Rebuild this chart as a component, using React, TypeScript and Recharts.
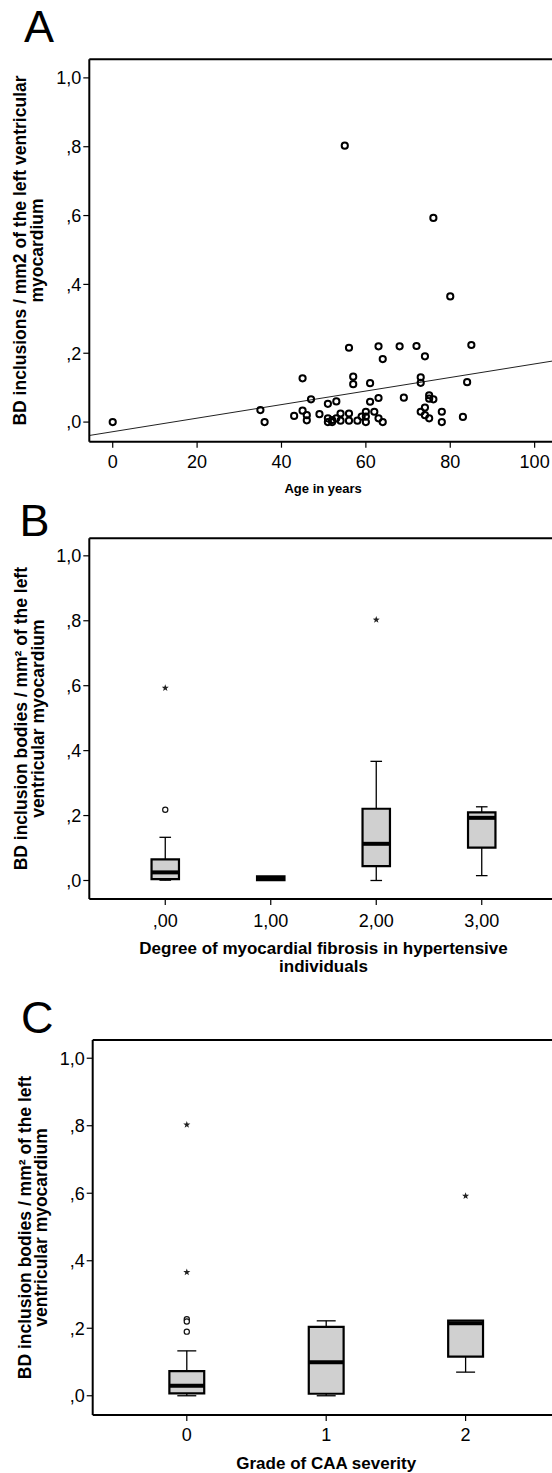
import React from 'react';
import { ScatterChart, Scatter, XAxis, YAxis, ReferenceLine, ReferenceArea, Label } from 'recharts';

const FONT = '"Liberation Sans", Arial, Helvetica, sans-serif';

// ---------- Shared value axis ----------
const densityTicks = [0, 0.2, 0.4, 0.6, 0.8, 1.0];
const densityTickLabels = [',0', ',2', ',4', ',6', ',8', '1,0'];
const Y_MIN = -0.057;
const Y_MAX = 1.054;

// ---------- Panel A: age vs BD inclusions ----------
const ageYears = [
  0, 35, 36, 43, 45, 45, 46, 46, 47, 49, 51, 51, 51, 52, 52, 53, 53, 54, 54, 55,
  56, 56, 56, 57, 57, 58, 59, 60, 60, 60, 61, 61, 62, 63, 63, 63, 64, 64, 68, 69,
  72, 73, 73, 73, 74, 74, 74, 75, 75, 75, 76, 76, 78, 78, 80, 83, 84, 85,
];
const bdInclusionsA = [
  0, 0.035, 0, 0.018, 0.127, 0.033, 0.02, 0.005, 0.066, 0.023, 0.053, 0.011, 0, 0.006, 0, 0.06, 0.011, 0.025, 0.004, 0.803,
  0.216, 0.025, 0.004, 0.132, 0.11, 0.004, 0.016, 0.03, 0.016, 0, 0.113, 0.059, 0.03, 0.22, 0.07, 0.011, 0.183, 0, 0.22, 0.071,
  0.221, 0.13, 0.114, 0.03, 0.191, 0.042, 0.02, 0.078, 0.068, 0.011, 0.593, 0.066, 0.03, 0, 0.365, 0.015, 0.116, 0.224,
];
const regressionIntercept = -0.028;
const regressionSlope = 0.00197;
const ageTicks = [0, 20, 40, 60, 80, 100];
const ageTickLabels = ['0', '20', '40', '60', '80', '100'];
const AGE_MIN = -5.55;
const AGE_MAX = 105.3;

// ---------- Panel B: fibrosis degree ----------
const fibrosisGroups = [0, 1, 2, 3];
const fibrosisLabels = [',00', '1,00', '2,00', '3,00'];
const fibrosisMin = [0.001, 0.001, 0.0, 0.015];
const fibrosisQ1 = [0.004, 0.001, 0.044, 0.1015];
const fibrosisMedian = [0.025, 0.006, 0.113, 0.193];
const fibrosisQ3 = [0.065, 0.013, 0.221, 0.21];
const fibrosisMax = [0.133, 0.013, 0.367, 0.227];
const fibrosisOutlierGroup = [0];
const fibrosisOutlierValue = [0.218];
const fibrosisExtremeGroup = [0, 2];
const fibrosisExtremeValue = [0.593, 0.803];
const FIB_MIN = -0.72;
const FIB_MAX = 3.72;

// ---------- Panel C: CAA grade ----------
const caaGroups = [0, 1, 2];
const caaLabels = ['0', '1', '2'];
const caaMin = [0.0, 0.0, 0.07];
const caaQ1 = [0.007, 0.006, 0.116];
const caaMedian = [0.03, 0.0995, 0.215];
const caaQ3 = [0.073, 0.204, 0.223];
const caaMax = [0.133, 0.222, 0.223];
const caaOutlierGroup = [0, 0, 0];
const caaOutlierValue = [0.227, 0.22, 0.19];
const caaExtremeGroup = [0, 0, 2];
const caaExtremeValue = [0.803, 0.366, 0.592];
const CAA_MIN = -0.675;
const CAA_MAX = 2.675;

// ---------- helpers ----------
const lookup = (ticks: number[], labels: string[], v: number) => {
  const i = ticks.findIndex((t) => Math.abs(t - v) < 1e-9);
  return i >= 0 ? labels[i] : '';
};

const axisLineStyle = { stroke: '#000', strokeWidth: 2 };

const makeYTick = (axisX: number) => (props: any) => {
  const v = props.payload ? props.payload.value : 0;
  return (
    <g>
      <line x1={axisX - 6} x2={axisX} y1={props.y} y2={props.y} stroke="#000" strokeWidth={1.2} />
      <text x={axisX - 8} y={props.y} dy="0.355em" textAnchor="end" fontFamily={FONT} fontSize={18} fill="#000">
        {lookup(densityTicks, densityTickLabels, v)}
      </text>
    </g>
  );
};

const makeXTick = (axisY: number, labelOffset: number, ticks: number[], labels: string[]) => (props: any) => {
  const v = props.payload ? props.payload.value : 0;
  return (
    <g>
      <line x1={props.x} x2={props.x} y1={axisY} y2={axisY + 6} stroke="#000" strokeWidth={1.2} />
      <text x={props.x} y={axisY + labelOffset} dy="0.355em" textAnchor="middle" fontFamily={FONT} fontSize={18} fill="#000">
        {lookup(ticks, labels, v)}
      </text>
    </g>
  );
};

const OpenCircleA = (p: any) => (
  <circle cx={p.cx} cy={p.cy} r={3.1} fill="none" stroke="#000" strokeWidth={2} />
);
const OpenCircleSmall = (p: any) => (
  <circle cx={p.cx} cy={p.cy} r={2.6} fill="#fff" stroke="#111" strokeWidth={1.2} />
);
const Star = (p: any) => {
  const pts: string[] = [];
  for (let i = 0; i < 10; i++) {
    const r = i % 2 === 0 ? 3.7 : 1.5;
    const a = -Math.PI / 2 + (i * Math.PI) / 5;
    pts.push(`${p.cx + r * Math.cos(a)},${p.cy + r * Math.sin(a)}`);
  }
  return <polygon points={pts.join(' ')} fill="#222" stroke="none" />;
};

const yTitle = (l1: string, l2: string, x1: number, x2: number) => (props: any) => {
  const vb = props.viewBox || {};
  const cy = vb.y + vb.height / 2;
  return (
    <g>
      <text x={x1} y={cy} transform={`rotate(-90 ${x1} ${cy})`} textAnchor="middle" dy="0.355em"
        fontFamily={FONT} fontWeight="bold" fontSize={17.5} fill="#000">{l1}</text>
      <text x={x2} y={cy} transform={`rotate(-90 ${x2} ${cy})`} textAnchor="middle" dy="0.355em"
        fontFamily={FONT} fontWeight="bold" fontSize={17.5} fill="#000">{l2}</text>
    </g>
  );
};

const xTitle = (lines: string[], offsets: number[], size: number) => (props: any) => {
  const vb = props.viewBox || {};
  const cx = vb.x + vb.width / 2;
  return (
    <g>
      {lines.map((t, i) => (
        <text key={i} x={cx} y={vb.y + offsets[i]} textAnchor="middle" dy="0.355em"
          fontFamily={FONT} fontWeight="bold" fontSize={size} fill="#000">{t}</text>
      ))}
    </g>
  );
};

function boxElements(prefix: string, groups: number[], mn: number[], q1: number[], md: number[], q3: number[], mx: number[], halfW: number, capW: number) {
  const els: any[] = [];
  groups.forEach((g, i) => {
    if (mx[i] > q3[i]) {
      els.push(<ReferenceLine key={`${prefix}wu${i}`} ifOverflow="visible" segment={[{ x: g, y: q3[i] }, { x: g, y: mx[i] }]} stroke="#000" strokeWidth={1.3} />);
      els.push(<ReferenceLine key={`${prefix}cu${i}`} ifOverflow="visible" segment={[{ x: g - capW, y: mx[i] }, { x: g + capW, y: mx[i] }]} stroke="#000" strokeWidth={1.3} />);
    }
    if (mn[i] < q1[i]) {
      els.push(<ReferenceLine key={`${prefix}wl${i}`} ifOverflow="visible" segment={[{ x: g, y: mn[i] }, { x: g, y: q1[i] }]} stroke="#000" strokeWidth={1.3} />);
      els.push(<ReferenceLine key={`${prefix}cl${i}`} ifOverflow="visible" segment={[{ x: g - capW, y: mn[i] }, { x: g + capW, y: mn[i] }]} stroke="#000" strokeWidth={1.3} />);
    }
    els.push(<ReferenceArea key={`${prefix}b${i}`} ifOverflow="visible" x1={g - halfW} x2={g + halfW} y1={q1[i]} y2={q3[i]} fill="#d0d0d0" fillOpacity={1} stroke="#000" strokeWidth={2.2} />);
    els.push(<ReferenceLine key={`${prefix}m${i}`} ifOverflow="visible" segment={[{ x: g - halfW, y: md[i] }, { x: g + halfW, y: md[i] }]} stroke="#000" strokeWidth={4} />);
  });
  return els;
}

// top edge of the plot frame, drawn through the chart's scales
const frameTop = (xMin: number, xMax: number) => (
  <ReferenceLine ifOverflow="visible" segment={[{ x: xMin, y: Y_MAX }, { x: xMax, y: Y_MAX }]} stroke="#000" strokeWidth={2} />
);

const pairs = (xs: number[], ys: number[]) => xs.map((x, i) => ({ x, y: ys[i] }));

export default function App() {
  const scatterA = pairs(ageYears, bdInclusionsA);
  const fibOut = pairs(fibrosisOutlierGroup, fibrosisOutlierValue);
  const fibExt = pairs(fibrosisExtremeGroup, fibrosisExtremeValue);
  const caaOut = pairs(caaOutlierGroup, caaOutlierValue);
  const caaExt = pairs(caaExtremeGroup, caaExtremeValue);

  return (
    <div style={{ position: 'relative', width: 552, height: 1473, overflow: 'hidden', background: '#fff' }}>
      <style>{'html,body{margin:0;padding:0;overflow:hidden;background:#fff}'}</style>

      {/* Panel A */}
      <div style={{ position: 'absolute', left: 0, top: 50 }}>
        <ScatterChart width={568} height={450} margin={{ top: 9.3, right: 11, bottom: 0, left: 0 }}>
          <XAxis type="number" dataKey="x" domain={[AGE_MIN, AGE_MAX]} allowDataOverflow ticks={ageTicks} interval={0}
            height={58.3} tickLine={false} axisLine={axisLineStyle}
            tick={makeXTick(391.7, 20, ageTicks, ageTickLabels)}>
            <Label content={xTitle(['Age in years'], [46.6], 13)} />
          </XAxis>
          <YAxis type="number" dataKey="y" domain={[Y_MIN, Y_MAX]} allowDataOverflow ticks={densityTicks} interval={0}
            width={89.3} tickLine={false} axisLine={axisLineStyle} tick={makeYTick(89.3)}>
            <Label content={yTitle('BD inclusions / mm2 of the left ventricular', 'myocardium', 19.5, 36.5)} />
          </YAxis>
          {frameTop(AGE_MIN, AGE_MAX)}
          <ReferenceLine
            ifOverflow="visible"
            segment={[
              { x: AGE_MIN, y: regressionIntercept + regressionSlope * AGE_MIN },
              { x: AGE_MAX, y: regressionIntercept + regressionSlope * AGE_MAX },
            ]}
            stroke="#222" strokeWidth={1}
          />
          <Scatter data={scatterA} shape={OpenCircleA} isAnimationActive={false} />
        </ScatterChart>
      </div>

      {/* Panel B */}
      <div style={{ position: 'absolute', left: 0, top: 530 }}>
        <ScatterChart width={568} height={445} margin={{ top: 8.3, right: 10.3, bottom: 0, left: 0 }}>
          <XAxis type="number" dataKey="x" domain={[FIB_MIN, FIB_MAX]} allowDataOverflow ticks={fibrosisGroups} interval={0}
            height={76} tickLine={false} axisLine={axisLineStyle}
            tick={makeXTick(369, 21.7, fibrosisGroups, fibrosisLabels)}>
            <Label content={xTitle(['Degree of myocardial fibrosis in hypertensive', 'individuals'], [49, 67.3], 17)} />
          </XAxis>
          <YAxis type="number" dataKey="y" domain={[Y_MIN, Y_MAX]} allowDataOverflow ticks={densityTicks} interval={0}
            width={89.3} tickLine={false} axisLine={axisLineStyle} tick={makeYTick(89.3)}>
            <Label content={yTitle('BD inclusion bodies / mm² of the left', 'ventricular myocardium', 21, 37.5)} />
          </YAxis>
          {frameTop(FIB_MIN, FIB_MAX)}
          {boxElements('b', fibrosisGroups, fibrosisMin, fibrosisQ1, fibrosisMedian, fibrosisQ3, fibrosisMax, 0.13, 0.055)}
          <Scatter data={fibOut} shape={OpenCircleSmall} isAnimationActive={false} />
          <Scatter data={fibExt} shape={Star} isAnimationActive={false} />
        </ScatterChart>
      </div>

      {/* Panel C */}
      <div style={{ position: 'absolute', left: 0, top: 1030 }}>
        <ScatterChart width={570} height={443} margin={{ top: 10, right: 10.3, bottom: 0, left: 0 }}>
          <XAxis type="number" dataKey="x" domain={[CAA_MIN, CAA_MAX]} allowDataOverflow ticks={caaGroups} interval={0}
            height={58} tickLine={false} axisLine={axisLineStyle}
            tick={makeXTick(385, 20, caaGroups, caaLabels)}>
            <Label content={xTitle(['Grade of CAA severity'], [48.3], 17)} />
          </XAxis>
          <YAxis type="number" dataKey="y" domain={[Y_MIN, Y_MAX]} allowDataOverflow ticks={densityTicks} interval={0}
            width={92.7} tickLine={false} axisLine={axisLineStyle} tick={makeYTick(92.7)}>
            <Label content={yTitle('BD inclusion bodies / mm² of the left', 'ventricular myocardium', 24.5, 41)} />
          </YAxis>
          {frameTop(CAA_MIN, CAA_MAX)}
          {boxElements('c', caaGroups, caaMin, caaQ1, caaMedian, caaQ3, caaMax, 0.125, 0.068)}
          <Scatter data={caaOut} shape={OpenCircleSmall} isAnimationActive={false} />
          <Scatter data={caaExt} shape={Star} isAnimationActive={false} />
        </ScatterChart>
      </div>

      {/* Panel letters */}
      <svg width={552} height={1473} style={{ position: 'absolute', left: 0, top: 0, pointerEvents: 'none' }}>
        <text x={24} y={41.7} fontFamily={FONT} fontSize={45} fill="#000">A</text>
        <text x={19.5} y={536} fontFamily={FONT} fontSize={45} fill="#000">B</text>
        <text x={21} y={1032.5} fontFamily={FONT} fontSize={45} fill="#000">C</text>
      </svg>
    </div>
  );
}
